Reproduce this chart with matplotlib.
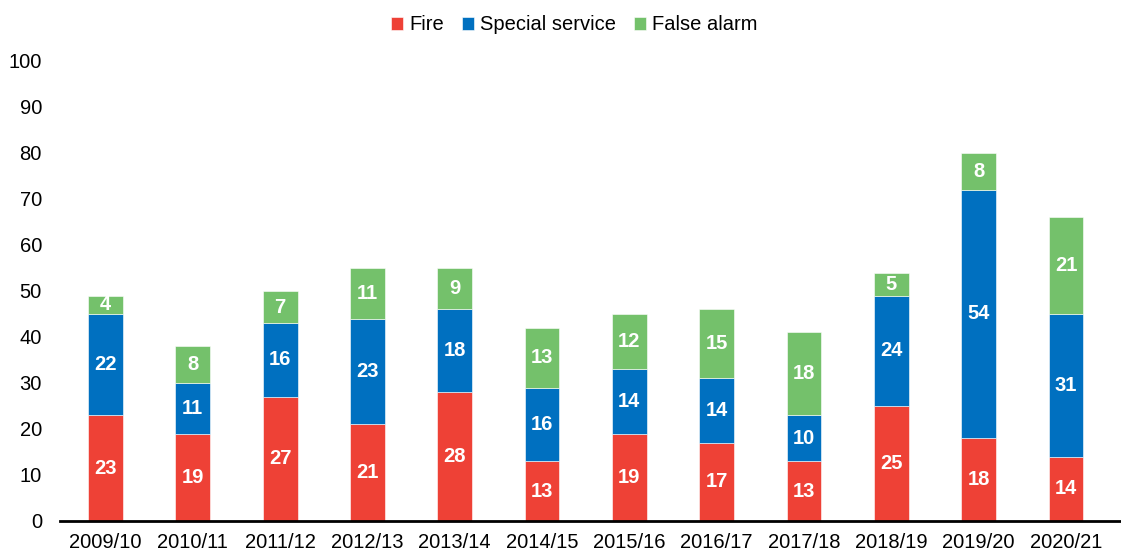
import numpy as np
import matplotlib
matplotlib.use("Agg")
import matplotlib.pyplot as plt

plt.rcParams['font.family'] = ['Liberation Sans', 'DejaVu Sans']

# Data
years = ["2009/10", "2010/11", "2011/12", "2012/13", "2013/14", "2014/15",
         "2015/16", "2016/17", "2017/18", "2018/19", "2019/20", "2020/21"]
fire = [23, 19, 27, 21, 28, 13, 19, 17, 13, 25, 18, 14]
special = [22, 11, 16, 23, 18, 16, 14, 14, 10, 24, 54, 31]
false_alarm = [4, 8, 7, 11, 9, 13, 12, 15, 18, 5, 8, 21]

series = [("Fire", fire, "#EE4136"),
          ("Special service", special, "#0070C0"),
          ("False alarm", false_alarm, "#74C16B")]

fig = plt.figure(figsize=(11.21, 5.54), dpi=100)
ax = fig.add_axes([0.0535, 0.0596, 0.9465, 0.8304])

x = np.arange(len(years))
bottom = np.zeros(len(years))
for name, vals, col in series:
    vals = np.array(vals)
    ax.bar(x, vals, 0.4, bottom=bottom, color=col, label=name,
           edgecolor="white", linewidth=0.4)
    for xi, b, v in zip(x, bottom, vals):
        ax.text(xi, b + v / 2, str(v), ha="center", va="center",
                color="white", fontsize=14.5, fontweight="bold")
    bottom += vals

ax.set_xlim(-0.52, 11.63)
ax.set_ylim(0, 100)
ax.set_yticks(range(0, 101, 10))
ax.set_xticks(x)
ax.set_xticklabels(years)
ax.tick_params(axis="both", length=0, labelsize=14.5, colors="black")
ax.tick_params(axis="x", pad=9)
ax.tick_params(axis="y", pad=13)
for s in ["top", "right", "left"]:
    ax.spines[s].set_visible(False)
ax.spines["bottom"].set_linewidth(2)
ax.spines["bottom"].set_color("black")

fig.legend(loc="upper center", bbox_to_anchor=(0.5125, 1.005), ncol=3,
           frameon=False, fontsize=14.5, handlelength=0.6, handleheight=0.6,
           handletextpad=0.3, columnspacing=0.9)

fig.savefig("out.png", dpi=100)
